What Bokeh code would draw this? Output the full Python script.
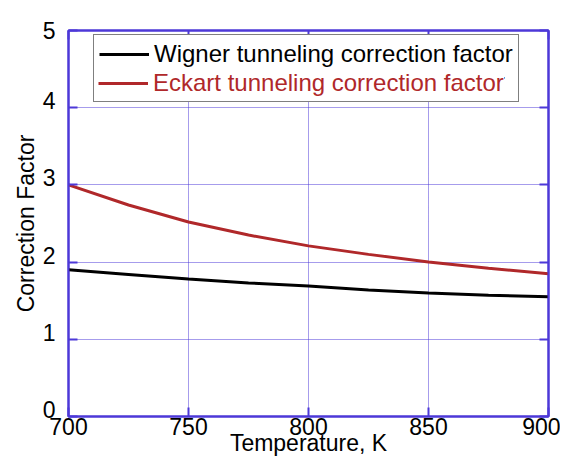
from bokeh.plotting import figure
from bokeh.models import (Range1d, LinearAxis, Legend, LegendItem, FixedTicker)
from bokeh.embed import file_html
from bokeh.resources import INLINE

temperature = [700, 725, 750, 775, 800, 825, 850, 875, 900]
wigner = [1.90, 1.84, 1.78, 1.73, 1.69, 1.64, 1.60, 1.57, 1.55]
eckart = [3.00, 2.74, 2.52, 2.35, 2.21, 2.10, 2.00, 1.92, 1.85]
x_ticks = [700, 750, 800, 850, 900]
y_ticks = [0, 1, 2, 3, 4, 5]
x_start, x_end = 700, 900
y_start, y_end = 0, 5

FRAME = "#4d38d8"
RED = "#b0282a"
FONT = "Liberation Sans"

FRAME_H = 386
label_shift = 7 * (y_end - y_start) / FRAME_H   # tick labels sit slightly above ticks

p = figure(width=560, height=461,
           x_range=Range1d(x_start, x_end), y_range=Range1d(y_start, y_end),
           output_backend="svg", toolbar_location=None,
           min_border_left=68, min_border_top=30, min_border_right=12,
           min_border_bottom=45)
p.extra_y_ranges = {"labels": Range1d(y_start - label_shift, y_end - label_shift)}

p.outline_line_color = FRAME
p.outline_line_width = 2

for ax in (p.xaxis[0], p.yaxis[0]):
    ax.axis_line_color = FRAME
    ax.axis_line_width = 2
    ax.major_tick_line_color = FRAME
    ax.major_tick_line_width = 2
    ax.major_tick_in = 9
    ax.major_tick_out = 0
    ax.minor_tick_line_color = None
    ax.major_label_text_font = FONT
    ax.major_label_text_font_size = "23px"
    ax.major_label_text_color = "black"
    ax.axis_label_text_font = FONT
    ax.axis_label_text_font_size = "23px"
    ax.axis_label_text_font_style = "normal"
    ax.axis_label_text_color = "black"

p.xaxis.ticker = FixedTicker(ticks=x_ticks)
p.yaxis.ticker = FixedTicker(ticks=y_ticks)
p.xaxis.axis_label = "Temperature, K"
p.xaxis.major_label_standoff = 1
p.xaxis.axis_label_standoff = -8
p.yaxis.major_label_overrides = {t: "" for t in y_ticks}
p.yaxis.major_label_text_font_size = "0px"
p.yaxis.major_label_standoff = 0

# label axis: same tick values, drawn a few pixels above the ticks
label_ticks = [t for t in y_ticks if t <= y_end - label_shift] + [y_end - label_shift]
label_overrides = {y_end - label_shift: str(y_ticks[-1])}
ylab = LinearAxis(y_range_name="labels", ticker=FixedTicker(ticks=label_ticks),
                  major_label_overrides=label_overrides,
                  axis_line_color=None, major_tick_line_color=None,
                  minor_tick_line_color=None, major_tick_in=0, major_tick_out=0,
                  major_label_standoff=13,
                  major_label_text_font=FONT, major_label_text_font_size="23px",
                  major_label_text_color="black",
                  axis_label="Correction Factor", axis_label_standoff=1,
                  axis_label_text_font=FONT, axis_label_text_font_size="23px",
                  axis_label_text_font_style="normal", axis_label_text_color="black")
p.add_layout(ylab, "left")

for loc, fixed in (("right", y_ticks), ("above", x_ticks)):
    ax2 = LinearAxis(ticker=FixedTicker(ticks=fixed),
                     axis_line_color=FRAME, axis_line_width=2,
                     major_tick_line_color=FRAME, major_tick_line_width=2,
                     major_tick_in=9, major_tick_out=0,
                     minor_tick_line_color=None,
                     major_label_standoff=0,
                     major_label_overrides={t: "" for t in fixed},
                     major_label_text_font_size="0px",
                     major_label_text_color=None)
    p.add_layout(ax2, loc)

p.xgrid.ticker = FixedTicker(ticks=x_ticks)
p.ygrid.ticker = FixedTicker(ticks=y_ticks)
for g in (p.xgrid[0], p.ygrid[0]):
    g.grid_line_color = FRAME
    g.grid_line_width = 1
    g.grid_line_dash = "1 1"
    g.grid_line_alpha = 1.0

rw = p.line(temperature, wigner, line_color="black", line_width=3)
re = p.line(temperature, eckart, line_color=RED, line_width=3)

common = dict(label_text_font=FONT, label_text_font_size="24px",
              glyph_width=50, glyph_height=26, label_height=26,
              label_standoff=5, spacing=0, margin=0)

legA = Legend(items=[LegendItem(label="Wigner tunneling correction factor", renderers=[rw]),
                     LegendItem(label="Eckart tunneling correction factor", renderers=[re])],
              location=(25, 314), padding=5,
              border_line_color="black", border_line_width=1.5,
              background_fill_color="white", background_fill_alpha=1.0,
              label_text_color="black", **common)
legB = Legend(items=[LegendItem(label="Eckart tunneling correction factor", renderers=[re])],
              location=(30, 319), padding=0,
              border_line_color=None,
              background_fill_color="white", background_fill_alpha=1.0,
              label_text_color=RED, **common)
p.add_layout(legA, "center")
p.add_layout(legB, "center")

open("out.html", "w").write(file_html(p, INLINE))
